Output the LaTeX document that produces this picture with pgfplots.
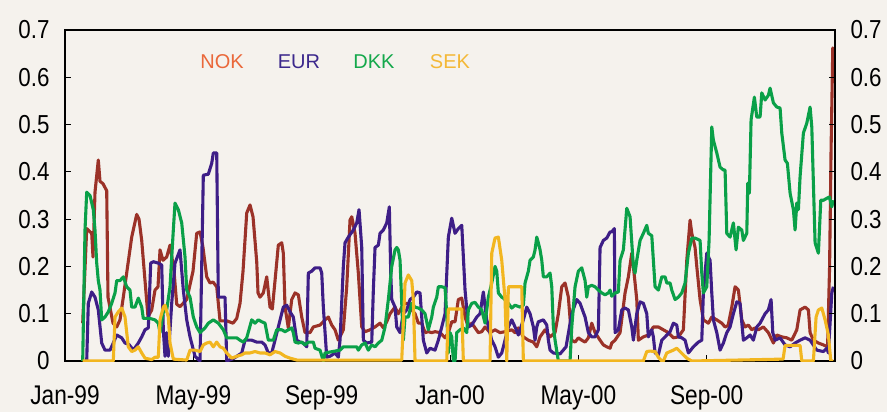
\documentclass[border=0pt]{standalone}
\usepackage{pgfplots}
\usepackage{pgfplotstable}
\pgfplotsset{compat=1.18}
\usepackage{fontspec}
\setmainfont{Liberation Sans}
\newfontfamily\tickfont{Liberation Sans}[FakeStretch=0.86]
\newfontfamily\xtickfont{Liberation Sans}[FakeStretch=0.84]
\definecolor{bg}{RGB}{245,242,237}
\definecolor{nokline}{RGB}{155,50,40}
\definecolor{eurline}{RGB}{62,30,135}
\definecolor{dkkline}{RGB}{10,160,72}
\definecolor{sekline}{RGB}{242,182,32}
\definecolor{noktext}{RGB}{234,104,58}
\definecolor{eurtext}{RGB}{60,40,140}
\definecolor{dkktext}{RGB}{20,168,75}
\definecolor{sektext}{RGB}{244,184,54}

% x = horizontal position (65 = Jan-99, 835 = Jan-01), y = value
\pgfplotstableread{
x y
82.7 0.08
86.7 0.28
91.7 0.27
93 0.22
95 0.357
98.3 0.425
100 0.38
103 0.375
106.7 0.36
108 0.135
113 0.08
116.7 0.072
120 0.087
123.3 0.135
131.7 0.262
136.7 0.31
139 0.30
141.7 0.255
145 0.17
148 0.093
151.7 0.108
155 0.15
158 0.157
160 0.235
163 0.213
166.7 0.22
170 0.245
174 0.19
176.7 0.12
180 0.115
186.7 0.13
193 0.19
196.7 0.27
200 0.273
203 0.24
206.7 0.178
210 0.165
213 0.167
216.7 0.157
220 0.085
226.7 0.085
233 0.08
236.7 0.09
240 0.122
243 0.19
246.7 0.313
250 0.33
253 0.305
256.7 0.21
258 0.144
260 0.135
263.3 0.144
266.7 0.178
270 0.114
272.3 0.11
275 0.17
278.3 0.245
281.7 0.25
283.3 0.228
285 0.114
288.3 0.07
291.7 0.13
295 0.144
298.3 0.14
301.7 0.093
305 0.06
310 0.06
313.3 0.072
320 0.076
325 0.087
328.3 0.093
331.7 0.076
335 0.066
338.3 0.044
343.3 0.066
346.7 0.157
350 0.298
351.7 0.305
355 0.27
358.3 0.186
361.7 0.072
365 0.062
370 0.066
375 0.072
380 0.08
383.3 0.07
386.7 0.083
390 0.1
395 0.114
398.3 0.1
401.7 0.114
405 0.122
408.3 0.122
411.7 0.108
415 0.1
418.3 0.08
421.7 0.08
425 0.06
428.3 0.062
431.7 0.06
435 0.062
440 0.06
445 0.049
448.3 0.06
451.7 0.083
455 0.083
458.3 0.13
461.7 0.133
465 0.093
468.3 0.072
471.7 0.08
475 0.07
478.3 0.06
481.7 0.062
485 0.072
490 0.06
495 0.066
500 0.06
505 0.062
511.7 0.066
515 0.06
518.3 0.07
523.3 0.051
528.3 0.044
533.3 0.04
536.7 0.03
540 0.051
545 0.066
550 0.051
555 0.06
558.3 0.1
561.7 0.157
565 0.165
568.3 0.135
571.7 0.044
575 0.04
578.3 0.049
581.7 0.044
585 0.04
588.3 0.049
591.7 0.08
595 0.06
600 0.044
603.3 0.034
606.7 0.03
610 0.027
611.7 0.038
615 0.044
620 0.06
625 0.144
628.3 0.178
631.7 0.228
633.3 0.2
636.7 0.13
638.3 0.044
643.3 0.051
648.3 0.055
653.3 0.072
658.3 0.072
663.3 0.066
668.3 0.06
673.3 0.049
678.3 0.051
683.3 0.066
686.7 0.213
690 0.298
691.7 0.27
695 0.24
696.7 0.2
700 0.13
703.3 0.087
708.3 0.08
711.7 0.093
716.7 0.087
721.7 0.08
725 0.072
728 0.075
731.7 0.114
735 0.157
738.3 0.15
741.7 0.087
745 0.072
748.3 0.076
751.7 0.066
755 0.07
758.3 0.066
763.3 0.072
768.3 0.06
773.3 0.038
776.7 0.055
781.7 0.051
786.7 0.049
791.7 0.044
796.7 0.066
800 0.108
805 0.114
808.3 0.108
810 0.06
813.3 0.044
818.3 0.038
823.3 0.034
827.5 0.03
829.5 0.2
831 0.45
832.7 0.662
833.3 0.66
}\nok

\pgfplotstableread{
x y
86.7 0.0
88.3 0.122
91.7 0.146
95 0.135
98.3 0.108
101.7 0.038
105 0.023
110 0.023
113.3 0.038
116.7 0.055
121.7 0.049
125 0.038
129 0.035
133.3 0.023
138.3 0.038
141.7 0.051
145 0.066
148.3 0.07
150.7 0.207
153.3 0.21
158.3 0.207
161.7 0.203
163.3 0.066
165 0.01
166.7 0.06
168.3 0.01
171.7 0.122
175 0.207
180 0.235
183.3 0.15
186.7 0.087
190 0.051
195 0.01
200 0.0
203.3 0.393
208.3 0.395
211.7 0.418
213.3 0.44
216.7 0.44
218.3 0.135
225 0.135
226.7 0.0
233.3 0.005
241.7 0.017
245 0.044
251.7 0.044
256.7 0.04
261.7 0.04
265 0.034
268.3 0.017
271.7 0.017
275 0.044
278.3 0.072
283.3 0.114
286.7 0.118
290 0.104
293.3 0.093
296.7 0.044
300 0.04
303.3 0.038
306.7 0.03
308.3 0.186
311.7 0.19
315 0.197
320 0.197
321.7 0.186
323.3 0.114
326.7 0.008
330 0.01
335 0.017
338.3 0.008
340 0.044
343.3 0.2
345 0.25
348.3 0.262
353.3 0.277
356.7 0.292
359 0.32
361.7 0.24
363.3 0.044
366.7 0.038
371.7 0.04
373.3 0.15
375 0.24
378.3 0.245
380 0.27
383.3 0.277
386.7 0.292
389.3 0.326
390.7 0.186
391.7 0.13
395 0.114
396.7 0.072
400 0.06
403.3 0.1
406.7 0.108
410 0.13
413.3 0.135
416.7 0.146
420 0.144
423.3 0.044
426.7 0.017
430 0.027
435 0.023
438.3 0.044
441.7 0.072
445 0.1
448.3 0.262
451.7 0.302
455 0.27
458.3 0.28
461.7 0.287
465 0.15
468.3 0.072
471.7 0.076
476.7 0.093
480 0.1
483.3 0.146
486.7 0.087
491.7 0.044
495 0.03
498.3 0.008
501.7 0.017
503.3 0.03
508.3 0.072
511.7 0.087
515 0.072
518.3 0.055
523.3 0.087
526.7 0.114
530 0.1
533.3 0.072
535 0.044
536.7 0.072
538.3 0.083
543.3 0.087
546.7 0.076
548.3 0.044
550 0.023
553.3 0.017
560 0.015
566 0.03
571.7 0.1
576.7 0.13
580 0.122
585 0.093
588.3 0.06
591.7 0.051
595 0.051
598.3 0.066
600 0.24
603.3 0.255
606.7 0.26
610 0.273
611.7 0.273
614.3 0.28
615 0.06
618.3 0.066
621.7 0.108
625 0.112
628.3 0.108
631.7 0.072
633.3 0.044
636.7 0.1
640 0.125
643.3 0.122
646.7 0.1
648.3 0.051
651.7 0.066
653.3 0.051
655 0.017
658.3 0.013
661.7 0.044
665 0.051
670 0.062
673.3 0.08
676.7 0.076
678.3 0.051
681.7 0.049
685 0.044
688.3 0.017
693.3 0.03
698.3 0.04
701.7 0.044
703.3 0.144
706.7 0.228
710 0.213
711.7 0.144
713.3 0.087
716.7 0.06
720 0.023
723.3 0.038
726.7 0.06
730 0.072
733.3 0.1
736.7 0.125
740 0.122
743.3 0.044
746.7 0.049
750 0.055
753.3 0.044
756.7 0.072
760 0.08
765 0.1
768.3 0.108
771 0.13
772.7 0.06
775 0.044
780 0.049
785 0.034
790 0.03
795 0.038
800 0.044
805 0.049
810 0.044
816.7 0.023
823.3 0.02
826.7 0.027
828.3 0.017
831.7 0.144
833.3 0.157
}\eur

\pgfplotstableread{
x y
82.7 0
85 0.277
86.7 0.357
90 0.35
93.3 0.32
95 0.277
96.7 0.207
98.3 0.17
100 0.15
101.7 0.087
105 0.093
108.3 0.104
111.7 0.122
115 0.144
116.7 0.17
120 0.17
123.3 0.178
126.7 0.157
130 0.15
131.7 0.114
135 0.114
138.3 0.133
141.7 0.114
143.3 0.09
150 0.09
155 0.087
158.3 0.08
160 0.06
163.3 0.104
166.7 0.108
170 0.157
173.3 0.277
175 0.334
178.3 0.32
181.7 0.292
185 0.22
186.7 0.15
190 0.135
193.3 0.093
196.7 0.072
200 0.06
205 0.07
208.3 0.08
213.3 0.087
218.3 0.08
223.3 0.066
226.7 0.049
231.7 0.049
236.7 0.049
240 0.044
243.3 0.04
246.7 0.049
251.7 0.087
255 0.08
258.3 0.087
261.7 0.083
265 0.08
268.3 0.044
273.3 0.044
276.7 0.066
281.7 0.066
285 0.062
288.3 0.066
291.7 0.07
293.3 0.06
295 0.04
298.3 0.038
301.7 0.04
305 0.034
308.3 0.04
313.3 0.04
315 0.027
320 0.023
323.3 0.0
325 0.017
330 0.019
340 0.023
343.3 0.03
356.7 0.03
358.3 0.023
361.7 0.034
365 0.038
368.3 0.023
371.7 0.034
375 0.03
378.3 0.038
381.7 0.044
385 0.072
388.3 0.13
391.7 0.2
395 0.235
396.7 0.24
398.3 0.235
400 0.213
401.7 0.122
403.3 0.044
405 0.093
408.3 0.093
411.7 0.122
415 0.114
418.3 0.112
421.7 0.108
425 0.1
428.3 0.066
431.7 0.093
433.3 0.114
436.7 0.135
438.3 0.157
441.7 0.157
445 0.155
446.7 0.1
448.3 0.017
450 0.06
451.7 0.051
453.3 0.0
455 0.0
456.7 0.06
460 0.066
463.3 0.07
466.7 0.06
468.3 0.108
471.7 0.122
475 0.124
478.3 0.114
481.7 0.108
485 0.08
488.3 0.135
491.7 0.165
495 0.2
496.7 0.19
498.3 0.144
501.7 0.135
503.3 0.133
508.3 0.122
511.7 0.112
515 0.118
520 0.114
523.3 0.118
525 0.165
528.3 0.19
530 0.213
533.3 0.22
535 0.235
536.7 0.262
538.3 0.25
540 0.235
541.7 0.213
543.3 0.178
546.7 0.178
550 0.186
551.7 0.157
553.3 0.072
555 0.044
558.3 0.0
570 0.0
571.7 0.072
575 0.157
578.3 0.19
581.7 0.197
585 0.17
586.7 0.135
588.3 0.157
591.7 0.16
595 0.157
598.3 0.15
601.7 0.144
605 0.14
608.3 0.144
610 0.15
611.7 0.137
615 0.144
618.3 0.146
620 0.213
623.3 0.235
626.7 0.323
630 0.305
633.3 0.2
635 0.186
636.7 0.213
640 0.255
643.3 0.27
646.7 0.287
648.3 0.27
651.7 0.265
653.3 0.213
655 0.157
658.3 0.15
661.7 0.178
665 0.178
666.7 0.165
670 0.165
671.7 0.15
675 0.13
678.3 0.135
681.7 0.144
685 0.165
688.3 0.228
691.7 0.26
695 0.26
700 0.255
701.7 0.186
703.3 0.144
706.7 0.157
709 0.255
711.7 0.495
713.3 0.467
716.7 0.44
720 0.41
723.3 0.404
725 0.404
726.7 0.27
730 0.262
733.3 0.292
736 0.235
738.3 0.283
741.7 0.277
743.3 0.255
746.7 0.27
747.7 0.376
749.3 0.355
751 0.51
754.3 0.558
756.7 0.516
760 0.516
761.7 0.567
765 0.552
768.3 0.562
770 0.577
773.3 0.546
776.7 0.537
780 0.535
781.7 0.482
785 0.425
787.3 0.418
790 0.355
793.3 0.32
795 0.277
796.7 0.334
798.3 0.32
800 0.39
803.3 0.482
806.7 0.503
810 0.537
811.7 0.495
815 0.25
818.3 0.228
820.7 0.34
823.3 0.34
826.7 0.344
829.3 0.347
831.7 0.326
833.3 0.34
}\dkk

\pgfplotstableread{
x y
82.7 0
113.3 0
115 0.093
118.3 0.104
121.7 0.112
125 0.093
128.3 0.03
131.7 0.02
135 0.023
138.3 0.03
141.7 0.017
145 0.006
151.7 0.003
155 0.008
158.3 0.008
160 0.087
163.3 0.114
165 0.118
168.3 0.093
170 0.038
173.3 0.004
186.7 0.002
190 0.023
195 0.023
200 0.02
203.3 0.034
206.7 0.038
210 0.04
213.3 0.03
216.7 0.04
220 0.03
223.3 0.027
226.7 0.017
231.7 0.006
236.7 0.01
241.7 0.013
245 0.017
250 0.017
255 0.02
260 0.017
265 0.017
270 0.013
275 0.02
280 0.017
285 0.01
290 0.006
297 0.002
401.7 0.002
405 0.165
408.3 0.182
411.7 0.17
413.3 0.13
415 0.0
446.7 0.0
448.3 0.11
461.7 0.11
463.3 0.0
490 0.0
491.7 0.228
495 0.26
498.3 0.262
501.7 0.213
505 0.13
506.7 0.0
508.3 0.157
521.7 0.157
523.3 0.0
643.3 0.0
646.7 0.02
650 0.021
655 0.02
658.3 0.008
661.7 0.0
663.3 0.0
666.7 0.017
670 0.02
673.3 0.023
676.7 0.027
680 0.02
683.3 0.013
686.7 0.006
691.7 0.0
783 0.004
785 0.033
800 0.033
801.7 0.0
813.3 0.0
816 0.093
818.3 0.108
821.7 0.112
825 0.087
828.3 0.055
830.7 0.0
833.3 0.0
}\sek

\begin{document}
\begin{tikzpicture}[x=1bp,y=1bp]
\path[use as bounding box, fill=bg] (0,0) rectangle (887,412);
\begin{axis}[
  at={(65bp,51bp)}, anchor=south west,
  scale only axis, width=770bp, height=331bp,
  xmin=0, xmax=24, ymin=0, ymax=0.7,
  axis line style={line width=1.1bp, black},
  tick style={line width=0.9bp, black},
  major tick length=6bp,
  tick align=inside,
  xtick={0,4,8,12,16,20},
  xticklabels={Jan-99,May-99,Sep-99,Jan-00,May-00,Sep-00},
  xtick pos=bottom,
  xticklabel style={font=\xtickfont\fontsize{27bp}{32bp}\selectfont, yshift=-21bp},
  ytick={0,0.1,0.2,0.3,0.4,0.5,0.6,0.7},
  yticklabels={0,0.1,0.2,0.3,0.4,0.5,0.6,0.7},
  ytick pos=left,
  yticklabel style={font=\tickfont\fontsize{26bp}{30bp}\selectfont, xshift=-12bp},
  clip=true,
  every axis plot/.append style={line width=3.1bp, line join=round, mark=none},
]
\addplot[nokline] table[x expr=(\thisrow{x}-65)/32.08, y=y] {\nok};
\addplot[eurline] table[x expr=(\thisrow{x}-65)/32.08, y=y] {\eur};
\addplot[dkkline] table[x expr=(\thisrow{x}-65)/32.08, y=y] {\dkk};
\addplot[sekline] table[x expr=(\thisrow{x}-65)/32.08, y=y] {\sek};
\end{axis}
\begin{axis}[
  at={(65bp,51bp)}, anchor=south west,
  scale only axis, width=770bp, height=331bp,
  xmin=0, xmax=24, ymin=0, ymax=0.7,
  hide x axis,
  axis y line*=right,
  axis line style={line width=1.1bp, black, -},
  tick style={line width=0.9bp, black},
  major tick length=6bp,
  tick align=inside,
  ytick={0,0.1,0.2,0.3,0.4,0.5,0.6,0.7},
  yticklabels={0,0.1,0.2,0.3,0.4,0.5,0.6,0.7},
  yticklabel style={font=\tickfont\fontsize{26bp}{30bp}\selectfont, xshift=12bp},
]
\end{axis}
\node[text=noktext, font=\fontsize{20bp}{24bp}\selectfont] at (222,350) {NOK};
\node[text=eurtext, font=\fontsize{20bp}{24bp}\selectfont] at (299,350) {EUR};
\node[text=dkktext, font=\fontsize{20bp}{24bp}\selectfont] at (374,350) {DKK};
\node[text=sektext, font=\fontsize{20bp}{24bp}\selectfont] at (450,350) {SEK};
\end{tikzpicture}
\end{document}
